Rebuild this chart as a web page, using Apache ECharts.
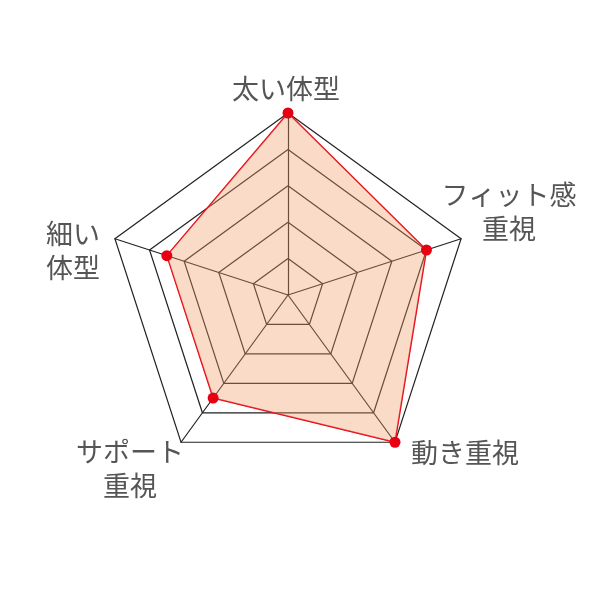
<!DOCTYPE html>
<html>
<head>
<meta charset="utf-8">
<script src="https://cdn.jsdelivr.net/npm/echarts@6/dist/echarts.min.js"></script>
<style>
  html, body { margin: 0; padding: 0; background: #fff; }
  #chart { width: 600px; height: 600px; }
</style>
</head>
<body>
<div id="chart"></div>
<script>
// indicators in ECharts order (top, then counter-clockwise)
const indicatorNames = ["太い体型", "細い\n体型", "サポート\n重視", "動き重視", "フィット感\n重視"];
const maxValue = 5;
const values = [5, 3.5, 3.5, 5, 4];

// label shift from each vertex (px), layout only
const labelShift = [[-2, -24], [-42, 12], [-51, 26], [70, 10], [48, -27]];
const linePad = 3.5;

const rich = {};
const styleFor = {};
indicatorNames.forEach((name, i) => {
  const [dx, dy] = labelShift[i];
  const padL = dx > 0 ? 2 * dx : 0;
  const padR = dx < 0 ? -2 * dx : 0;
  const padT = dy > 0 ? 2 * dy : 0;
  const padB = dy < 0 ? -2 * dy : 0;
  const lines = name.split("\n");
  const base = { align: "center", color: "#555", fontSize: 27, fontFamily: "Noto Sans CJK JP" };
  lines.forEach((s, j) => {
    const key = "l" + i + "_" + j;
    const top = linePad + (j === 0 ? padT : 0);
    const bottom = linePad + (j === lines.length - 1 ? padB : 0);
    rich[key] = Object.assign({}, base, { padding: [top, padR, bottom, padL] });
  });
  styleFor[name] = lines.map((s, j) => "{l" + i + "_" + j + "|" + s + "}").join("\n");
});

const chart = echarts.init(document.getElementById("chart"));

chart.setOption({
  backgroundColor: "#fff",
  radar: {
    center: [288, 295],
    radius: 182,
    splitNumber: 5,
    shape: "polygon",
    indicator: indicatorNames.map((name) => ({ name: name, max: maxValue, min: 0 })),
    nameGap: 0,
    axisName: {
      align: "center",
      verticalAlign: "middle",
      color: "#555",
      fontSize: 27,
      fontFamily: "Noto Sans CJK JP",
      formatter: (name) => styleFor[name],
      rich: rich,
    },
    axisLine: { lineStyle: { color: "#222", width: 1.2 } },
    splitLine: { lineStyle: { color: "#222", width: 1.2 } },
    splitArea: { show: false },
  },
  series: [
    {
      type: "radar",
      symbol: "circle",
      symbolSize: 11,
      itemStyle: { color: "#e60012" },
      lineStyle: { color: "#e60012", width: 1.5 },
      areaStyle: { color: "#f09a66", opacity: 0.36 },
      data: [{ value: values }],
    },
  ],
});
</script>
</body>
</html>
